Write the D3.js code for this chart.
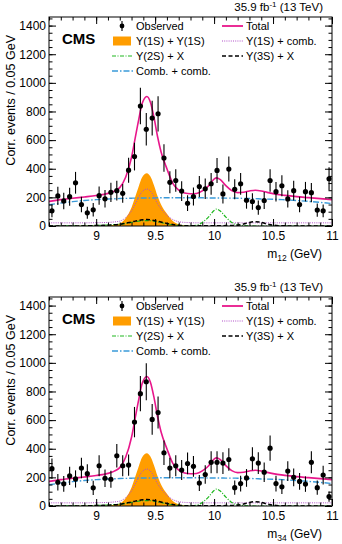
<!DOCTYPE html>
<html>
<head>
<meta charset="utf-8">
<script src="https://cdn.jsdelivr.net/npm/d3@7"></script>
<style>
  body { margin: 0; background: #fff; }
  svg { font-family: "Liberation Sans", Arial, Helvetica, sans-serif; }
</style>
</head>
<body>
<div class="chart"></div>
<script>
// bin centres (0.05 GeV bins)
var binCenters = [8.625, 8.675, 8.725, 8.775, 8.825, 8.875, 8.925, 8.975, 9.025, 9.075, 9.125, 9.175,
  9.225, 9.275, 9.325, 9.375, 9.425, 9.475, 9.525, 9.575, 9.625, 9.675, 9.725, 9.775,
  9.825, 9.875, 9.925, 9.975, 10.025, 10.075, 10.125, 10.175, 10.225, 10.275, 10.325, 10.375,
  10.425, 10.475, 10.525, 10.575, 10.625, 10.675, 10.725, 10.775, 10.825, 10.875, 10.925, 10.975];

// observed, m12
var obs12 = [106, 210, 175, 205, 302, 150, 92, 113, 212, 190, 235, 247, 228, 390, 485, 838, 676, 754, 784, 475,
  305, 318, 244, 159, 206, 276, 260, 295, 388, 224, 398, 256, 295, 180, 171, 129, 178, 318, 240, 281,
  189, 247, 150, 240, 233, 111, 106, 330];
var err12 = [45, 64, 58, 63, 76, 54, 42, 47, 64, 61, 67, 69, 66, 87, 97, 127, 114, 121, 123, 96,
  77, 78, 69, 55, 63, 73, 71, 76, 87, 66, 88, 70, 76, 59, 58, 50, 59, 78, 68, 74,
  60, 69, 54, 68, 67, 46, 45, 80];

// observed, m34
var obs34 = [261, 166, 155, 210, 189, 265, 226, 127, 281, 194, 187, 351, 281, 286, 586, 785, 868, 605, 653, 372,
  265, 281, 251, 297, 277, 160, 220, 305, 305, 300, 325, 128, 157, 196, 330, 300, 236, 404, 157, 134,
  244, 200, 172, 153, 305, 128, 216, 66];
var err34 = [71, 57, 55, 64, 60, 72, 66, 50, 74, 61, 60, 82, 74, 74, 106, 123, 130, 108, 112, 85,
  72, 74, 70, 76, 73, 56, 65, 77, 77, 76, 79, 50, 55, 62, 80, 76, 68, 88, 55, 51,
  69, 62, 58, 54, 77, 50, 65, 36];

// fit curves
var curveX = [8.6, 8.7, 8.8, 8.9, 9.0, 9.1, 9.15, 9.2, 9.25, 9.3, 9.33, 9.36, 9.39, 9.43, 9.46,
  9.49, 9.52, 9.55, 9.6, 9.65, 9.7, 9.75, 9.8, 9.85, 9.9, 9.95, 10.0, 10.02, 10.05, 10.1,
  10.15, 10.2, 10.25, 10.3, 10.35, 10.4, 10.45, 10.5, 10.6, 10.7, 10.8, 10.9, 11.0];
var totalFit = [172, 184, 194, 203, 213, 228, 242, 268, 340, 480, 610, 740, 855, 905, 865,
  760, 627, 519, 400, 298, 250, 230, 225, 227, 245, 278, 328, 336, 326, 282,
  247, 233, 236, 245, 250, 245, 235, 226, 214, 205, 198, 191, 184];
var onesOnes = [0, 0, 0, 1, 2, 4, 8, 18, 55, 130, 200, 275, 340, 368, 345,
  285, 210, 150, 85, 35, 12, 3, 0, 0, 0, 0, 0, 0, 0, 0,
  0, 0, 0, 0, 0, 0, 0, 0, 0, 0, 0, 0, 0];
var onesComb = [22, 22, 22, 22, 23, 25, 28, 34, 58, 106, 151, 199, 241, 258, 245,
  206, 157, 120, 75, 45, 30, 25, 23, 22, 22, 22, 22, 22, 22, 22,
  22, 22, 22, 22, 22, 22, 22, 22, 22, 22, 22, 22, 22];
var twosX = [0, 0, 1, 2, 4, 7, 9, 12, 18, 25, 30, 34, 37, 38, 37,
  34, 29, 24, 16, 9, 4, 2, 2, 5, 25, 60, 108, 118, 106, 62,
  25, 8, 3, 1, 0, 0, 0, 0, 0, 0, 0, 0, 0];
var threesX = [0, 0, 0, 1, 3, 6, 8, 12, 20, 28, 34, 39, 43, 45, 43,
  39, 34, 28, 18, 10, 5, 2, 1, 1, 1, 1, 2, 2, 2, 3,
  4, 6, 14, 25, 30, 25, 14, 6, 1, 0, 0, 0, 0];
var combComb = [148, 160, 170, 178, 184, 189, 190, 192, 193, 194, 195, 195, 196, 196, 196,
  196, 197, 197, 197, 197, 197, 197, 197, 197, 197, 196, 196, 196, 196, 195,
  195, 194, 193, 192, 191, 189, 188, 187, 183, 178, 172, 165, 157];

var xTicks = [9, 9.5, 10, 10.5, 11];
var yTicks = [0, 200, 400, 600, 800, 1000, 1200, 1400];

var W = 342, H = 544;
var left = 49, right = 332;

var svg = d3.select('.chart').append('svg')
  .attr('width', W)
  .attr('height', H);

var x = d3.scaleLinear().domain([8.6, 11]).range([left, right]);

var pink = '#e8168b', orange = '#ff9d00', purple = '#b04fc8',
  green = '#1fb81f', blue = '#3a9ad9';

var drawPanel = function(top, obs, err, sub, id) {
  var bottom = top + 209;
  var y = d3.scaleLinear().domain([0, 1460]).range([bottom, top]);
  var g = svg.append('g');

  g.append('clipPath').attr('id', 'clip' + id)
    .append('rect')
    .attr('x', left).attr('y', top)
    .attr('width', right - left).attr('height', bottom - top);

  var plot = g.append('g').attr('clip-path', 'url(#clip' + id + ')');

  // orange fill
  var area = d3.area()
    .x(function(d, i) { return x(curveX[i]); })
    .y0(y(0))
    .y1(function(d) { return y(d); })
    .curve(d3.curveMonotoneX);
  plot.append('path').datum(onesOnes)
    .attr('d', area)
    .style('fill', orange);

  var line = d3.line()
    .x(function(d, i) { return x(curveX[i]); })
    .y(function(d) { return y(d); })
    .curve(d3.curveMonotoneX);

  var curves = [
    { v: combComb, c: blue, w: 1.4, dash: '6,2,1.5,2' },
    { v: onesComb, c: purple, w: 1, dash: '1,1.2' },
    { v: twosX, c: green, w: 1.2, dash: '4,1.5,1,1.5' },
    { v: threesX, c: '#000', w: 1.5, dash: '4,2.5' },
    { v: totalFit, c: pink, w: 1.6, dash: null }
  ];
  curves.forEach(function(cv) {
    plot.append('path').datum(cv.v)
      .attr('d', line)
      .style('fill', 'none')
      .style('stroke', cv.c)
      .style('stroke-width', cv.w)
      .style('stroke-dasharray', cv.dash);
  });

  // observed points
  var pts = plot.selectAll('.pt').data(obs).enter().append('g').attr('class', 'pt');
  pts.append('line')
    .attr('x1', function(d, i) { return x(binCenters[i]); })
    .attr('x2', function(d, i) { return x(binCenters[i]); })
    .attr('y1', function(d, i) { return y(d - err[i]); })
    .attr('y2', function(d, i) { return y(d + err[i]); })
    .style('stroke', '#000')
    .style('stroke-width', 1.1);
  pts.append('circle')
    .attr('cx', function(d, i) { return x(binCenters[i]); })
    .attr('cy', function(d) { return y(d); })
    .attr('r', 2.6)
    .style('fill', '#000');

  // frame
  g.append('rect')
    .attr('x', left).attr('y', top)
    .attr('width', right - left).attr('height', bottom - top)
    .style('fill', 'none').style('stroke', '#000').style('stroke-width', 1);

  // ticks, all pointing inwards
  var xMinor = d3.range(8.6, 11.001, 0.1);
  var yMinor = d3.range(0, 1451, 50);
  var clean = function(a) { a.select('.domain').remove(); };

  g.append('g').attr('transform', 'translate(0,' + bottom + ')')
    .call(d3.axisBottom(x).tickValues(xMinor).tickSize(-3.5).tickFormat('')).call(clean);
  g.append('g').attr('transform', 'translate(0,' + top + ')')
    .call(d3.axisTop(x).tickValues(xMinor).tickSize(-3.5).tickFormat('')).call(clean);
  g.append('g').attr('transform', 'translate(0,' + top + ')')
    .call(d3.axisTop(x).tickValues(xTicks).tickSize(-7).tickFormat('')).call(clean);
  var xa = g.append('g').attr('transform', 'translate(0,' + bottom + ')')
    .call(d3.axisBottom(x).tickValues(xTicks).tickSize(-7).tickPadding(5)
      .tickFormat(function(d) { return d; }))
    .call(clean);

  g.append('g').attr('transform', 'translate(' + left + ',0)')
    .call(d3.axisLeft(y).tickValues(yMinor).tickSize(-3.5).tickFormat('')).call(clean);
  g.append('g').attr('transform', 'translate(' + right + ',0)')
    .call(d3.axisRight(y).tickValues(yMinor).tickSize(-3.5).tickFormat('')).call(clean);
  g.append('g').attr('transform', 'translate(' + right + ',0)')
    .call(d3.axisRight(y).tickValues(yTicks).tickSize(-7).tickFormat('')).call(clean);
  var ya = g.append('g').attr('transform', 'translate(' + left + ',0)')
    .call(d3.axisLeft(y).tickValues(yTicks).tickSize(-7).tickPadding(3)
      .tickFormat(d3.format('d')))
    .call(clean);

  g.selectAll('.tick line').style('stroke', '#000');
  [xa, ya].forEach(function(a) {
    a.attr('font-family', null).attr('font-size', null);
    a.selectAll('text').style('font-size', '12px').style('fill', '#000');
  });

  // titles
  var xt = g.append('text')
    .attr('x', 322).attr('y', bottom + 32)
    .attr('text-anchor', 'end')
    .style('font-size', '12px');
  xt.append('tspan').text('m');
  xt.append('tspan').attr('dy', 3).style('font-size', '8.5px').text(sub);
  xt.append('tspan').attr('dy', -3).text(' (GeV)');

  g.append('text')
    .attr('transform', 'translate(15,' + (top + 18) + ') rotate(-90)')
    .attr('text-anchor', 'end')
    .style('font-size', '12.5px')
    .text('Corr. events / 0.05 GeV');

  var lumi = g.append('text')
    .attr('x', 323).attr('y', top - 6.5)
    .attr('text-anchor', 'end')
    .style('font-size', '11.5px');
  lumi.append('tspan').text('35.9 fb');
  lumi.append('tspan').attr('dy', -4).style('font-size', '8px').text('-1');
  lumi.append('tspan').attr('dy', 4).text(' (13 TeV)');

  g.append('text')
    .attr('x', 62).attr('y', top + 27)
    .style('font-size', '15px').style('font-weight', 'bold')
    .text('CMS');

  // legend
  var r0 = top + 9, dr = 15;
  var leg = g.append('g').style('font-size', '11px');
  leg.append('line').attr('x1', 122).attr('x2', 122).attr('y1', r0 - 5).attr('y2', r0 + 5)
    .style('stroke', '#000').style('stroke-width', 1.1);
  leg.append('circle').attr('cx', 122).attr('cy', r0).attr('r', 2.4).style('fill', '#000');
  leg.append('rect').attr('x', 113).attr('y', r0 + dr - 4.5).attr('width', 18).attr('height', 9)
    .style('fill', orange);

  var legLines = [
    { x: 112, r: 2, c: green, w: 1.2, dash: '4,1.5,1,1.5' },
    { x: 112, r: 3, c: blue, w: 1.3, dash: '6,2,1.5,2' },
    { x: 222, r: 0, c: pink, w: 1.8, dash: null },
    { x: 222, r: 1, c: purple, w: 1, dash: '1,1.2' },
    { x: 222, r: 2, c: '#000', w: 1.5, dash: '4,2.5' }
  ];
  legLines.forEach(function(l) {
    leg.append('line')
      .attr('x1', l.x).attr('x2', l.x + 21)
      .attr('y1', r0 + l.r * dr).attr('y2', r0 + l.r * dr)
      .style('stroke', l.c).style('stroke-width', l.w).style('stroke-dasharray', l.dash);
  });

  var legText = [
    { x: 136, r: 0, t: 'Observed' },
    { x: 136, r: 1, t: '\u03A5(1S) + \u03A5(1S)' },
    { x: 136, r: 2, t: '\u03A5(2S) + X' },
    { x: 136, r: 3, t: 'Comb. + comb.' },
    { x: 246, r: 0, t: 'Total' },
    { x: 246, r: 1, t: '\u03A5(1S) + comb.' },
    { x: 246, r: 2, t: '\u03A5(3S) + X' }
  ];
  leg.selectAll('.lt').data(legText).enter().append('text')
    .attr('x', function(d) { return d.x; })
    .attr('y', function(d) { return r0 + d.r * dr + 4; })
    .text(function(d) { return d.t; });
};

drawPanel(17, obs12, err12, '12', 'a');
drawPanel(297, obs34, err34, '34', 'b');
</script>
</body>
</html>
